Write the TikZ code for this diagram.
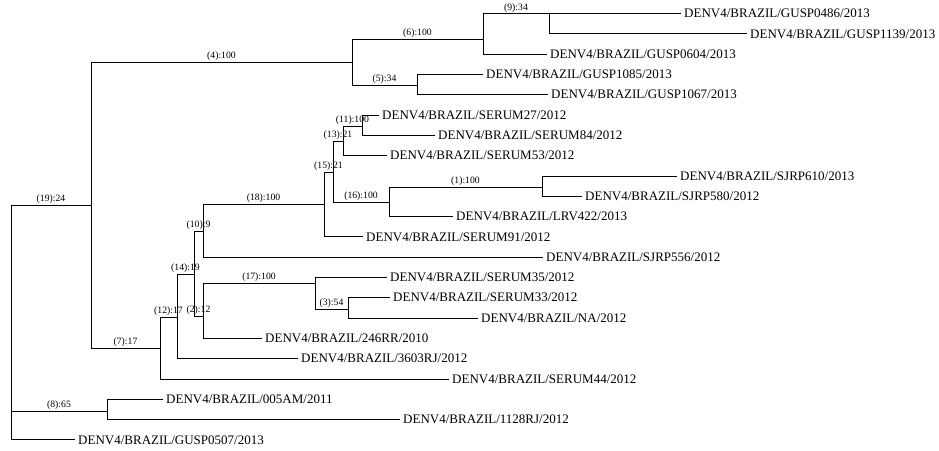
\documentclass[tikz,border=0pt]{standalone}
\usepackage{fontspec}
\setmainfont{Liberation Serif}

\begin{document}
\begin{tikzpicture}[%%
  x=1pt,y=-1pt,%%
  branchStyle/.style={-,line width=0.8pt,draw},%%
  leafLabel/.style={anchor=west,inner sep=3pt,font=\fontsize{13}{15}\selectfont},%%
  supportLabel/.style={anchor=south,inner sep=1pt,pos=0.75,font=\fontsize{9.7}{11}\selectfont}
]
\useasboundingbox (0,0) rectangle (939,450);
%%
%%
\pgfmathsetmacro{\yTop}{13.5}
\pgfmathsetmacro{\dy}{20.3}
%% Leaves, from top to bottom.
\node[leafLabel] (gusp0486) at (681,{\yTop+0*\dy}) {DENV4/BRAZIL/GUSP0486/2013};
\node[leafLabel] (gusp1139) at (747,{\yTop+1*\dy}) {DENV4/BRAZIL/GUSP1139/2013};
\node[leafLabel] (gusp0604) at (547,{\yTop+2*\dy}) {DENV4/BRAZIL/GUSP0604/2013};
\node[leafLabel] (gusp1085) at (483,{\yTop+3*\dy}) {DENV4/BRAZIL/GUSP1085/2013};
\node[leafLabel] (gusp1067) at (548,{\yTop+4*\dy}) {DENV4/BRAZIL/GUSP1067/2013};
\node[leafLabel] (serum27) at (379,{\yTop+5*\dy}) {DENV4/BRAZIL/SERUM27/2012};
\node[leafLabel] (serum84) at (435,{\yTop+6*\dy}) {DENV4/BRAZIL/SERUM84/2012};
\node[leafLabel] (serum53) at (387,{\yTop+7*\dy}) {DENV4/BRAZIL/SERUM53/2012};
\node[leafLabel] (sjrp610) at (677,{\yTop+8*\dy}) {DENV4/BRAZIL/SJRP610/2013};
\node[leafLabel] (sjrp580) at (582,{\yTop+9*\dy}) {DENV4/BRAZIL/SJRP580/2012};
\node[leafLabel] (lrv422) at (453,{\yTop+10*\dy}) {DENV4/BRAZIL/LRV422/2013};
\node[leafLabel] (serum91) at (363,{\yTop+11*\dy}) {DENV4/BRAZIL/SERUM91/2012};
\node[leafLabel] (sjrp556) at (543,{\yTop+12*\dy}) {DENV4/BRAZIL/SJRP556/2012};
\node[leafLabel] (serum35) at (387,{\yTop+13*\dy}) {DENV4/BRAZIL/SERUM35/2012};
\node[leafLabel] (serum33) at (390,{\yTop+14*\dy}) {DENV4/BRAZIL/SERUM33/2012};
\node[leafLabel] (na) at (478,{\yTop+15*\dy}) {DENV4/BRAZIL/NA/2012};
\node[leafLabel] (rrA) at (262,{\yTop+16*\dy}) {DENV4/BRAZIL/246RR/2010};
\node[leafLabel] (rjA) at (298,{\yTop+17*\dy}) {DENV4/BRAZIL/3603RJ/2012};
\node[leafLabel] (serum44) at (449,{\yTop+18*\dy}) {DENV4/BRAZIL/SERUM44/2012};
\node[leafLabel] (amA) at (163,{\yTop+19*\dy}) {DENV4/BRAZIL/005AM/2011};
\node[leafLabel] (rjB) at (400,{\yTop+20*\dy}) {DENV4/BRAZIL/1128RJ/2012};
\node[leafLabel] (gusp0507) at (75,{\yTop+21*\dy}) {DENV4/BRAZIL/GUSP0507/2013};
%%
%% Inner nodes of the tree.
\coordinate (root) at (11,322);
\coordinate (n19) at (91,205);
\coordinate (n4) at (352,62);
\coordinate (n6) at (483,39);
\coordinate (n9) at (549,\yTop);
\coordinate (n5) at (417,85);
\coordinate (n7) at (160,348);
\coordinate (n12) at (177,317);
\coordinate (n14) at (194,274);
\coordinate (n10) at (203,231);
\coordinate (n18) at (324,204);
\coordinate (n15) at (333,172);
\coordinate (n13) at (343,141);
\coordinate (n11) at (362,126);
\coordinate (n16) at (389,202);
\coordinate (n1) at (542,187);
\coordinate (n2) at (203,316);
\coordinate (n17) at (315,283);
\coordinate (n3) at (348,309);
\coordinate (n8) at (107,411);
%%
%% Branches, with their support values.
\draw[branchStyle] (root) |- node[supportLabel] {(19):24} (n19);
\draw[branchStyle] (root) |- node[supportLabel] {(8):65} (n8);
\draw[branchStyle] (root) |- (gusp0507.west);
\draw[branchStyle] (n19) |- node[supportLabel] {(4):100} (n4);
\draw[branchStyle] (n19) |- node[supportLabel] {(7):17} (n7);
\draw[branchStyle] (n4) |- node[supportLabel] {(6):100} (n6);
\draw[branchStyle] (n4) |- node[supportLabel] {(5):34} (n5);
\draw[branchStyle] (n6) |- node[supportLabel] {(9):34} (n9);
\draw[branchStyle] (n6) |- (gusp0604.west);
\draw[branchStyle] (n9) |- (gusp0486.west);
\draw[branchStyle] (n9) |- (gusp1139.west);
\draw[branchStyle] (n5) |- (gusp1085.west);
\draw[branchStyle] (n5) |- (gusp1067.west);
\draw[branchStyle] (n7) |- node[supportLabel] {(12):17} (n12);
\draw[branchStyle] (n7) |- (serum44.west);
\draw[branchStyle] (n12) |- node[supportLabel] {(14):19} (n14);
\draw[branchStyle] (n12) |- (rjA.west);
\draw[branchStyle] (n14) |- node[supportLabel] {(10):9} (n10);
\draw[branchStyle] (n14) |- node[supportLabel] {(2):12} (n2);
\draw[branchStyle] (n10) |- node[supportLabel] {(18):100} (n18);
\draw[branchStyle] (n10) |- (sjrp556.west);
\draw[branchStyle] (n18) |- node[supportLabel] {(15):21} (n15);
\draw[branchStyle] (n18) |- (serum91.west);
\draw[branchStyle] (n15) |- node[supportLabel] {(13):21} (n13);
\draw[branchStyle] (n15) |- node[supportLabel] {(16):100} (n16);
\draw[branchStyle] (n13) |- node[supportLabel] {(11):100} (n11);
\draw[branchStyle] (n13) |- (serum53.west);
\draw[branchStyle] (n11) |- (serum27.west);
\draw[branchStyle] (n11) |- (serum84.west);
\draw[branchStyle] (n16) |- node[supportLabel] {(1):100} (n1);
\draw[branchStyle] (n16) |- (lrv422.west);
\draw[branchStyle] (n1) |- (sjrp610.west);
\draw[branchStyle] (n1) |- (sjrp580.west);
\draw[branchStyle] (n2) |- node[supportLabel] {(17):100} (n17);
\draw[branchStyle] (n2) |- (rrA.west);
\draw[branchStyle] (n17) |- (serum35.west);
\draw[branchStyle] (n17) |- node[supportLabel] {(3):54} (n3);
\draw[branchStyle] (n3) |- (serum33.west);
\draw[branchStyle] (n3) |- (na.west);
\draw[branchStyle] (n8) |- (amA.west);
\draw[branchStyle] (n8) |- (rjB.west);
\end{tikzpicture}
\end{document}
